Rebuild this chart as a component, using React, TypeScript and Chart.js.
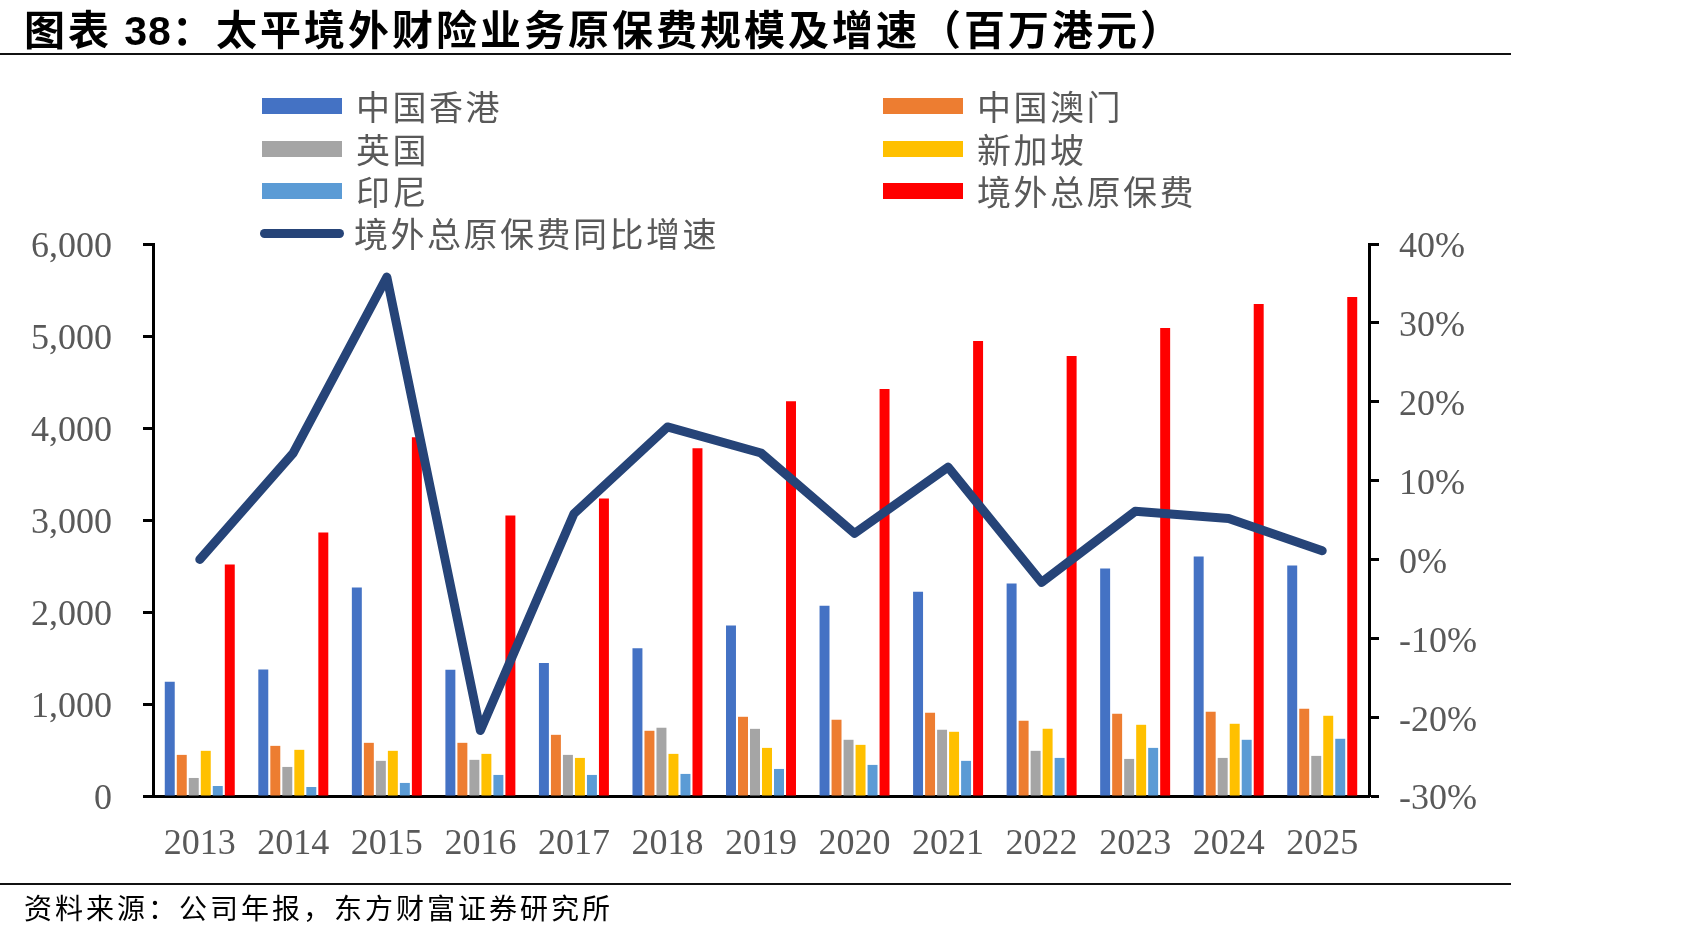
import React, { useEffect, useRef } from 'react';
import { Chart, registerables } from 'chart.js';

Chart.register(...registerables);

const years = ['2013', '2014', '2015', '2016', '2017', '2018', '2019', '2020', '2021', '2022', '2023', '2024', '2025'];
const hongKong = [1243, 1374, 2266, 1372, 1445, 1605, 1852, 2067, 2220, 2309, 2473, 2603, 2505];
const macau = [447, 545, 578, 578, 665, 709, 861, 829, 905, 818, 894, 916, 949];
const uk = [196, 316, 382, 393, 447, 742, 730, 611, 720, 491, 403, 414, 436];
const singapore = [491, 502, 491, 458, 414, 458, 523, 556, 698, 731, 774, 785, 872];
const indonesia = [109, 98, 142, 229, 229, 240, 294, 338, 382, 414, 523, 611, 622];
const overseasTotal = [2516, 2865, 3900, 3050, 3235, 3780, 4292, 4423, 4946, 4782, 5087, 5349, 5425];
const totalGrowth = [0.0, 13.5, 35.8, -21.7, 5.8, 16.8, 13.5, 3.3, 11.7, -2.9, 6.1, 5.2, 1.1];

const barSeries = [
  { label: '中国香港', data: hongKong, color: '#4472C4' },
  { label: '中国澳门', data: macau, color: '#ED7D31' },
  { label: '英国', data: uk, color: '#A5A5A5' },
  { label: '新加坡', data: singapore, color: '#FFC000' },
  { label: '印尼', data: indonesia, color: '#5B9BD5' },
  { label: '境外总原保费', data: overseasTotal, color: '#FF0000' },
];
const lineLabel = '境外总原保费同比增速';
const lineColor = '#264478';

const TITLE_PREFIX = '图表 ';
const TITLE_NUM = '38';
const TITLE_REST = '：太平境外财险业务原保费规模及增速（百万港元）';
const SOURCE = '资料来源：公司年报，东方财富证券研究所';

const W = 1701;
const H = 938;
const PLOT_LEFT = 153;
const PLOT_RIGHT = 1369;
const PLOT_TOP = 244;
const PLOT_BOTTOM = 796;

const tickFont = { family: '"Liberation Serif", "Times New Roman", serif', size: 36 };
const tickColor = '#595959';
const cjk = '"Noto Sans CJK SC", "Noto Sans", sans-serif';

export default function App() {
  const ref = useRef<HTMLCanvasElement>(null);

  useEffect(() => {
    document.body.style.margin = '0';
    const canvas = ref.current!;
    const chart = new Chart(canvas, {
      type: 'bar',
      data: {
        labels: years,
        datasets: [
          {
            type: 'line',
            label: lineLabel,
            data: totalGrowth,
            yAxisID: 'y1',
            borderColor: lineColor,
            backgroundColor: lineColor,
            borderWidth: 9,
            pointRadius: 0,
            borderCapStyle: 'round',
            borderJoinStyle: 'round',
            tension: 0,
            order: 0,
          } as any,
          ...barSeries.map((s) => ({
            type: 'bar' as const,
            label: s.label,
            data: s.data,
            yAxisID: 'y',
            backgroundColor: s.color,
            borderWidth: 0,
            categoryPercentage: 0.77,
            barPercentage: 0.83,
            order: 1,
          })),
        ],
      },
      options: {
        responsive: false,
        animation: false,
        layout: { padding: { top: PLOT_TOP, left: 0, right: 0, bottom: 0 } },
        plugins: {
          legend: { display: false },
          tooltip: { enabled: false },
          title: { display: false },
        },
        scales: {
          x: {
            grid: { display: false },
            border: { display: true, color: '#000', width: 3 },
            ticks: { font: tickFont, color: tickColor, padding: 19, maxRotation: 0, autoSkip: false },
            afterFit: (s: any) => { s.height = H - PLOT_BOTTOM; },
          },
          y: {
            position: 'left',
            min: 0,
            max: 6000,
            ticks: {
              stepSize: 1000,
              font: tickFont,
              color: tickColor,
              padding: 31,
              labelOffset: 4,
              callback: (v: any) => Number(v).toLocaleString('en-US'),
            },
            grid: { display: true, drawOnChartArea: false, drawTicks: true, tickLength: 10, tickWidth: 3, tickColor: '#000' },
            border: { display: true, color: '#000', width: 3 },
            afterFit: (s: any) => { s.width = PLOT_LEFT; },
          },
          y1: {
            position: 'right',
            min: -30,
            max: 40,
            ticks: {
              stepSize: 10,
              font: tickFont,
              color: tickColor,
              padding: 20,
              labelOffset: 4,
              callback: (v: any) => `${v}%`,
            },
            grid: { display: true, drawOnChartArea: false, drawTicks: true, tickLength: 10, tickWidth: 3, tickColor: '#000' },
            border: { display: true, color: '#000', width: 3 },
            afterFit: (s: any) => { s.width = W - PLOT_RIGHT; },
          },
        },
      },
    });
    return () => chart.destroy();
  }, []);

  const legendRow = (left: number, cy: number, color: string, text: string, isLine = false) => (
    <div key={text} style={{ position: 'absolute', left, top: cy - 22, height: 44, display: 'flex', alignItems: 'center' }}>
      <div
        style={{
          width: isLine ? 84 : 80,
          height: isLine ? 9 : 16,
          background: color,
          borderRadius: isLine ? 5 : 0,
          marginRight: isLine ? 10 : 14,
        }}
      />
      <span style={{ fontFamily: cjk, fontSize: 34, color: '#595959', letterSpacing: 2.5, lineHeight: '44px', whiteSpace: 'nowrap' }}>{text}</span>
    </div>
  );

  const rows = [106, 149, 191, 233];

  return (
    <div style={{ position: 'relative', width: W, height: H, background: '#fff', overflow: 'hidden' }}>
      <canvas ref={ref} width={W} height={H} style={{ position: 'absolute', left: 0, top: 0, display: 'block' }} />
      <div
        style={{
          position: 'absolute',
          left: 24,
          top: 4,
          fontFamily: cjk,
          fontWeight: 700,
          fontSize: 41,
          lineHeight: '46px',
          color: '#000',
          whiteSpace: 'nowrap',
          letterSpacing: 3,
        }}
      >
        {TITLE_PREFIX}
        <span style={{ fontFamily: '"Liberation Sans", Arial, sans-serif', fontWeight: 700, letterSpacing: 1 }}>{TITLE_NUM}</span>
        {TITLE_REST}
      </div>
      <div style={{ position: 'absolute', left: 0, top: 53, width: 1511, height: 2, background: '#111' }} />
      {legendRow(262, rows[0], barSeries[0].color, barSeries[0].label)}
      {legendRow(883, rows[0], barSeries[1].color, barSeries[1].label)}
      {legendRow(262, rows[1], barSeries[2].color, barSeries[2].label)}
      {legendRow(883, rows[1], barSeries[3].color, barSeries[3].label)}
      {legendRow(262, rows[2], barSeries[4].color, barSeries[4].label)}
      {legendRow(883, rows[2], barSeries[5].color, barSeries[5].label)}
      {legendRow(260, rows[3], lineColor, lineLabel, true)}
      <div style={{ position: 'absolute', left: 0, top: 883, width: 1511, height: 2, background: '#111' }} />
      <div
        style={{
          position: 'absolute',
          left: 24,
          top: 890,
          fontFamily: cjk,
          fontSize: 28,
          lineHeight: '34px',
          color: '#000',
          whiteSpace: 'nowrap',
          letterSpacing: 3,
        }}
      >
        {SOURCE}
      </div>
    </div>
  );
}
